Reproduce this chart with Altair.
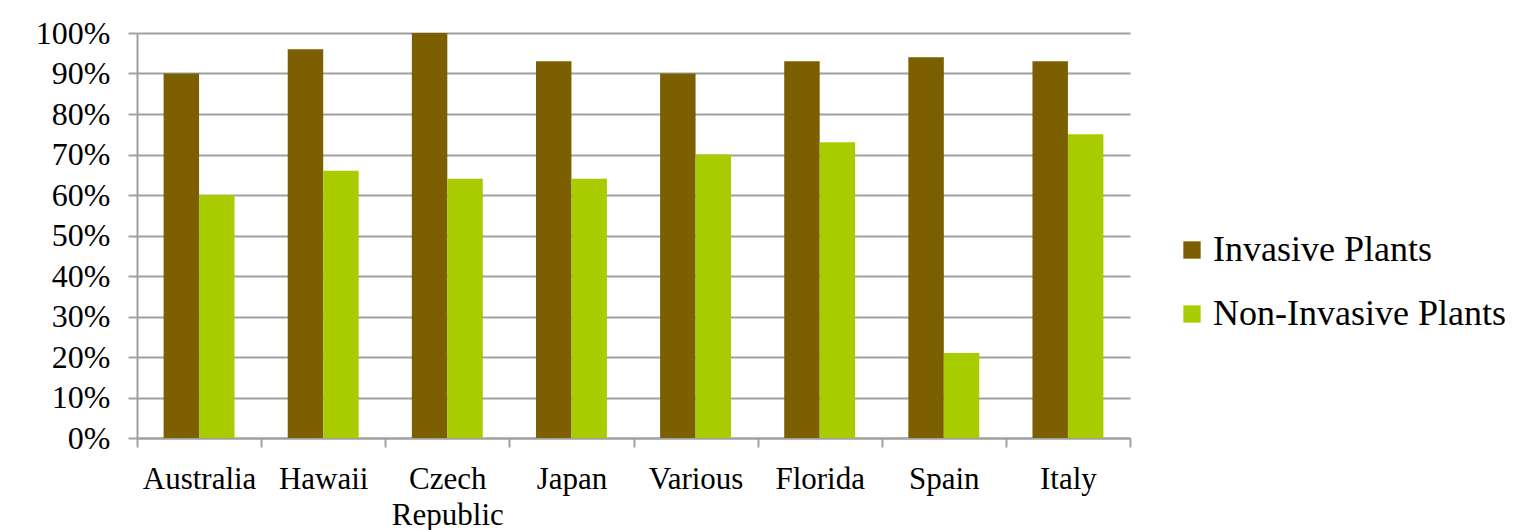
import altair as alt
import pandas as pd

regions = ["Australia", "Hawaii", "Czech Republic", "Japan", "Various", "Florida", "Spain", "Italy"]
invasive = [0.90, 0.96, 1.00, 0.93, 0.90, 0.93, 0.94, 0.93]
non_invasive = [0.60, 0.66, 0.64, 0.64, 0.70, 0.73, 0.21, 0.75]
series = ["Invasive Plants", "Non-Invasive Plants"]
colors = ["#7b5f00", "#a8cc00"]

rows = []
for r, a, b in zip(regions, invasive, non_invasive):
    rows.append({"region": r, "group": series[0], "share": a})
    rows.append({"region": r, "group": series[1], "share": b})
df = pd.DataFrame(rows)

FONT = "Times New Roman, Liberation Serif, serif"

chart = alt.Chart(df).mark_bar().encode(
    x=alt.X(
        "region:N",
        sort=regions,
        scale=alt.Scale(paddingInner=0, paddingOuter=0),
        axis=alt.Axis(
            title=None,
            labelAngle=0,
            tickBand="extent",
            tickSize=9,
            tickColor="#a0a0a0",
            tickWidth=2,
            domainColor="#a0a0a0",
            domainWidth=2,
            labelPadding=17,
            labelFontSize=31,
            labelFont=FONT,
            labelColor="#000000",
            labelLineHeight=36,
            labelBaseline="top",
            labelExpr="datum.value == 'Czech Republic' ? ['Czech', 'Republic'] : datum.value",
        ),
    ),
    xOffset=alt.XOffset("group:N", sort=series, scale=alt.Scale(paddingOuter=0.75, paddingInner=0)),
    y=alt.Y(
        "share:Q",
        scale=alt.Scale(domain=[0, 1], nice=False),
        axis=alt.Axis(
            title=None,
            format=".0%",
            values=[i / 10 for i in range(11)],
            tickSize=9,
            tickColor="#a0a0a0",
            tickWidth=2,
            gridColor="#a0a0a0",
            gridWidth=2,
            domainColor="#a0a0a0",
            domainWidth=2,
            labelPadding=18,
            labelFontSize=32,
            labelFont=FONT,
            labelColor="#000000",
        ),
    ),
    color=alt.Color(
        "group:N",
        sort=series,
        scale=alt.Scale(domain=series, range=colors),
        legend=alt.Legend(
            title=None,
            orient="none",
            legendX=1037,
            legendY=199,
            padding=0,
            symbolType="square",
            symbolSize=300,
            symbolStrokeWidth=0,
            labelFontSize=36,
            labelFont=FONT,
            labelColor="#000000",
            labelLimit=400,
            labelOffset=3,
            rowPadding=28,
        ),
    ),
).properties(
    width=993,
    height=405,
    autosize=alt.AutoSizeParams(type="none"),
    padding={"left": 137, "top": 33, "right": 383, "bottom": 92},
).configure(
    background="white",
    font=FONT,
).configure_view(
    stroke=None
)

chart.save("out.html", embed_options={"renderer": "svg", "actions": False})
